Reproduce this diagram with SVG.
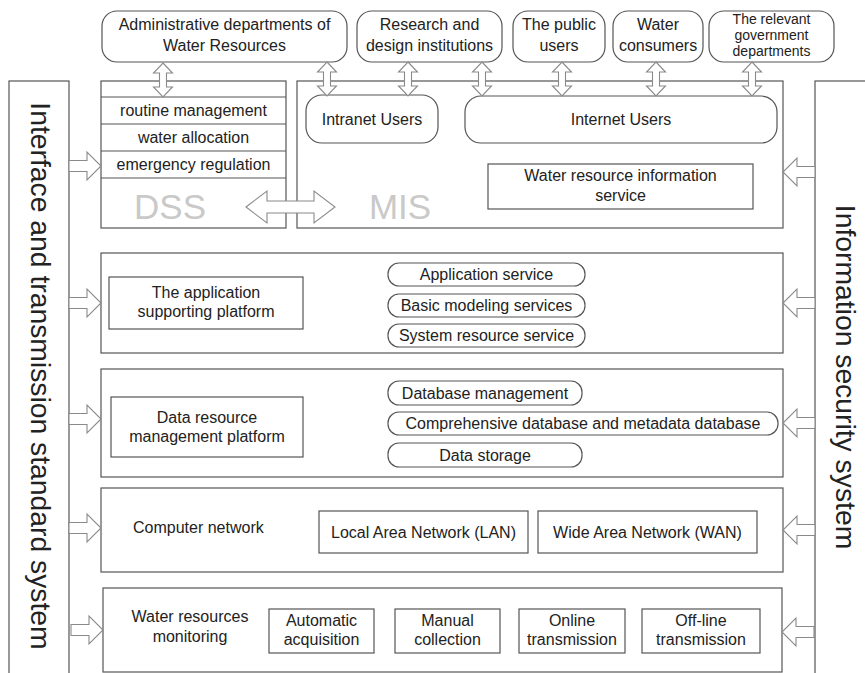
<svg xmlns="http://www.w3.org/2000/svg" width="865" height="673" viewBox="0 0 865 673">
  <style>
    .box { fill: #fff; stroke: #555; stroke-width: 1.2; }
    .arw { fill: #fff; stroke: #8a8a8a; stroke-width: 1.1; stroke-linejoin: miter; }
    .t { font-family: "Liberation Sans", Arial, sans-serif; font-size: 16px; fill: #222; text-anchor: middle; }
    .ts { text-anchor: start; }
    .sm { font-size: 14px; }
    .big { font-family: "Liberation Sans", Arial, sans-serif; font-size: 28.3px; fill: #222; text-anchor: middle; }
    .ghost { font-family: "Liberation Sans", Arial, sans-serif; font-size: 35px; fill: #c9c9c9; text-anchor: middle; }
  </style>
  <defs>
    <!-- vertical two-way block arrow, 34 long -->
    <path id="vdbl" d="M0,0 L9.5,10 L3.5,10 L3.5,24 L9.5,24 L0,34 L-9.5,24 L-3.5,24 L-3.5,10 L-9.5,10 Z"/>
    <!-- block arrow pointing right, base at x=0 -->
    <path id="rarr" d="M0,-5.5 L18,-5.5 L18,-14 L32,0 L18,14 L18,5.5 L0,5.5 Z"/>
    <!-- block arrow pointing left, tip at x=0 -->
    <path id="larr" d="M32,-5.5 L14,-5.5 L14,-14 L0,0 L14,14 L14,5.5 L32,5.5 Z"/>
  </defs>
  <rect width="865" height="673" fill="#fff"/>

  <!-- side columns -->
  <g id="interface-standard">
    <rect class="box" x="9" y="81" width="60" height="600"/>
    <text class="big" transform="translate(31,376) rotate(90)">Interface and transmission standard system</text>
  </g>
  <g id="security-system">
    <rect class="box" x="815" y="81" width="60" height="600"/>
    <text class="big" transform="translate(836,377) rotate(90)">Information security system</text>
  </g>

  <!-- user groups -->
  <g id="admin-departments">
    <rect class="box" x="102" y="11" width="245" height="51" rx="15"/>
    <text class="t" x="224.5" y="30">Administrative departments of</text>
    <text class="t" x="224.5" y="51">Water Resources</text>
  </g>
  <g id="research-institutions">
    <rect class="box" x="357" y="11" width="145" height="51" rx="15"/>
    <text class="t" x="429.5" y="30">Research and</text>
    <text class="t" x="429.5" y="51">design institutions</text>
  </g>
  <g id="public-users">
    <rect class="box" x="513" y="11" width="92" height="51" rx="15"/>
    <text class="t" x="559" y="30">The public</text>
    <text class="t" x="559" y="51">users</text>
  </g>
  <g id="water-consumers">
    <rect class="box" x="613" y="11" width="90" height="51" rx="15"/>
    <text class="t" x="658" y="30">Water</text>
    <text class="t" x="658" y="51">consumers</text>
  </g>
  <g id="government-departments">
    <rect class="box" x="709" y="11" width="125" height="51" rx="15"/>
    <text class="t sm" x="771.5" y="23.5">The relevant</text>
    <text class="t sm" x="771.5" y="39.5">government</text>
    <text class="t sm" x="771.5" y="55.5">departments</text>
  </g>

  <!-- DSS -->
  <g id="dss">
    <rect class="box" x="101" y="81" width="185" height="147"/>
    <line class="box" x1="101" y1="97" x2="286" y2="97"/>
    <line class="box" x1="101" y1="124" x2="286" y2="124"/>
    <line class="box" x1="101" y1="151" x2="286" y2="151"/>
    <line class="box" x1="101" y1="178" x2="286" y2="178"/>
    <text class="t" x="193.5" y="116">routine management</text>
    <text class="t" x="193.5" y="143">water allocation</text>
    <text class="t" x="193.5" y="170">emergency regulation</text>
    <text class="ghost" x="170" y="219">DSS</text>
  </g>

  <!-- MIS -->
  <g id="mis">
    <rect class="box" x="297" y="81" width="486" height="147"/>
    <text class="ghost" x="400" y="219">MIS</text>
  </g>
  <g id="intranet-users">
    <rect class="box" x="306" y="95" width="132" height="48" rx="16"/>
    <text class="t" x="372" y="125">Intranet Users</text>
  </g>
  <g id="internet-users">
    <rect class="box" x="465" y="96" width="312" height="47" rx="16"/>
    <text class="t" x="621" y="125">Internet Users</text>
  </g>
  <g id="info-service">
    <rect class="box" x="488" y="164" width="265" height="45"/>
    <text class="t" x="620.5" y="181">Water resource information</text>
    <text class="t" x="620.5" y="201">service</text>
  </g>

  <!-- application supporting platform layer -->
  <g id="app-layer">
    <rect class="box" x="101" y="253" width="682" height="100"/>
    <rect class="box" x="109" y="277" width="194" height="52"/>
    <text class="t" x="206" y="298">The application</text>
    <text class="t" x="206" y="317">supporting platform</text>
    <rect class="box" x="388" y="263" width="197" height="23" rx="11"/>
    <text class="t" x="486.5" y="280">Application service</text>
    <rect class="box" x="388" y="294" width="197" height="23" rx="11"/>
    <text class="t" x="486.5" y="311">Basic modeling services</text>
    <rect class="box" x="388" y="324" width="197" height="23" rx="11"/>
    <text class="t" x="486.5" y="341">System resource service</text>
  </g>

  <!-- data resource management layer -->
  <g id="data-layer">
    <rect class="box" x="101" y="369" width="682" height="108"/>
    <rect class="box" x="111" y="397" width="192" height="60"/>
    <text class="t" x="207" y="423">Data resource</text>
    <text class="t" x="207" y="442">management platform</text>
    <rect class="box" x="388" y="381" width="194" height="24" rx="11"/>
    <text class="t" x="485" y="398.5">Database management</text>
    <rect class="box" x="388" y="412" width="390" height="23" rx="11"/>
    <text class="t" x="583" y="429">Comprehensive database and metadata database</text>
    <rect class="box" x="388" y="443" width="194" height="24" rx="11"/>
    <text class="t" x="485" y="460.5">Data storage</text>
  </g>

  <!-- computer network layer -->
  <g id="network-layer">
    <rect class="box" x="101" y="488" width="682" height="84"/>
    <text class="t ts" x="133" y="533">Computer network</text>
    <rect class="box" x="319" y="511" width="209" height="42"/>
    <text class="t" x="423.5" y="538">Local Area Network (LAN)</text>
    <rect class="box" x="538" y="511" width="219" height="42"/>
    <text class="t" x="647.5" y="538">Wide Area Network (WAN)</text>
  </g>

  <!-- monitoring layer -->
  <g id="monitoring-layer">
    <rect class="box" x="103" y="588" width="679" height="84"/>
    <text class="t" x="190" y="622">Water resources</text>
    <text class="t" x="190" y="642">monitoring</text>
    <rect class="box" x="269" y="609" width="105" height="44"/>
    <text class="t" x="321.5" y="626">Automatic</text>
    <text class="t" x="321.5" y="645">acquisition</text>
    <rect class="box" x="395" y="609" width="105" height="44"/>
    <text class="t" x="447.5" y="626">Manual</text>
    <text class="t" x="447.5" y="645">collection</text>
    <rect class="box" x="519" y="609" width="106" height="44"/>
    <text class="t" x="572" y="626">Online</text>
    <text class="t" x="572" y="645">transmission</text>
    <rect class="box" x="642" y="609" width="118" height="44"/>
    <text class="t" x="701" y="626">Off-line</text>
    <text class="t" x="701" y="645">transmission</text>
  </g>

  <!-- connectors -->
  <g id="connectors">
    <use href="#vdbl" class="arw" x="163" y="63"/>
    <use href="#vdbl" class="arw" x="327" y="62"/>
    <use href="#vdbl" class="arw" x="408" y="62"/>
    <use href="#vdbl" class="arw" x="482" y="62"/>
    <use href="#vdbl" class="arw" x="562" y="62"/>
    <use href="#vdbl" class="arw" x="656" y="62"/>
    <use href="#vdbl" class="arw" x="752" y="62"/>

    <path class="arw" d="M246,207 L267,191 L267,201 L314,201 L314,191 L335,207 L314,223 L314,213 L267,213 L267,223 Z"/>

    <use href="#rarr" class="arw" x="69" y="166"/>
    <use href="#rarr" class="arw" x="69" y="303"/>
    <use href="#rarr" class="arw" x="69" y="419"/>
    <use href="#rarr" class="arw" x="69" y="528"/>
    <use href="#rarr" class="arw" x="71" y="630"/>

    <use href="#larr" class="arw" x="783" y="172"/>
    <use href="#larr" class="arw" x="783" y="303"/>
    <use href="#larr" class="arw" x="783" y="423"/>
    <use href="#larr" class="arw" x="783" y="530"/>
    <use href="#larr" class="arw" x="782" y="632"/>
  </g>
</svg>
